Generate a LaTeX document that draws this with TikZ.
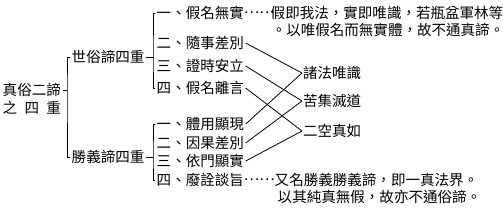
\documentclass[tikz,border=0pt]{standalone}
\usepackage{fontspec}
\newfontfamily\cjk{Noto Sans CJK TC}
\newcommand{\middots}{\raisebox{0.33em}{……}}

\begin{document}
\begin{tikzpicture}[x=0.75pt, y=-0.75pt, line width=0.6pt,
	every node/.style={font=\cjk\fontsize{10.9}{13}\selectfont, anchor=west, inner sep=1pt}]
	\useasboundingbox (0,0) rectangle (503,212);
	% root and the two truths
	\node (root) at (1,90) {真俗二諦};
	\node (root2) at (1,108) {\makebox[4em][s]{之\hfill 四\hfill 重}};
	\node (s1) at (70,57) {世俗諦四重};
	\node (s2) at (70,157) {勝義諦四重};
	\coordinate (b1) at (67,90);
	\draw (root.east) -- (b1);
	\draw (s1.west) -| (b1) |- (s2.west);
	% worldly truth
	\node (i1) at (155,13) {一、假名無實\middots};
	\node (i2) at (155,43) {二、隨事差別};
	\node (i3) at (155,66) {三、證時安立};
	\node (i4) at (155,88) {四、假名離言};
	\node (n1) at (269,13) {假即我法，實即唯識，若瓶盆軍林等};
	\node (n1b) at (270,30) {。以唯假名而無實體，故不通真諦。};
	\coordinate (b2) at (153,57);
	\draw (s1.east) -- (b2);
	\draw (i1.west) -| (b2) |- (i4.west);
	% ultimate truth
	\node (j1) at (155,124) {一、體用顯現};
	\node (j2) at (155,143) {二、因果差別};
	\node (j3) at (155,161) {三、依門顯實};
	\node (j4) at (155,180) {四、廢詮談旨\middots};
	\node (n4) at (273,180) {又名勝義勝義諦，即一真法界。};
	\node (n4b) at (276,197) {以其純真無假，故亦不通俗諦。};
	\coordinate (b3) at (153,157);
	\draw (s2.east) -- (b3);
	\draw (j1.west) -| (b3) |- (j4.west);
	% shared middle
	\node[inner sep=0.5pt] (m1) at (302,73) {諸法唯識};
	\node[inner sep=0.5pt] (m2) at (302,101) {苦集滅道};
	\node[inner sep=0.5pt] (m3) at (302,131) {二空真如};
	\foreach \a/\b in {i2/m1, i3/m2, i4/m3, j1/m1, j2/m2, j3/m3}
		{\draw (\a.east) -- (\b.west);}
\end{tikzpicture}
\end{document}
